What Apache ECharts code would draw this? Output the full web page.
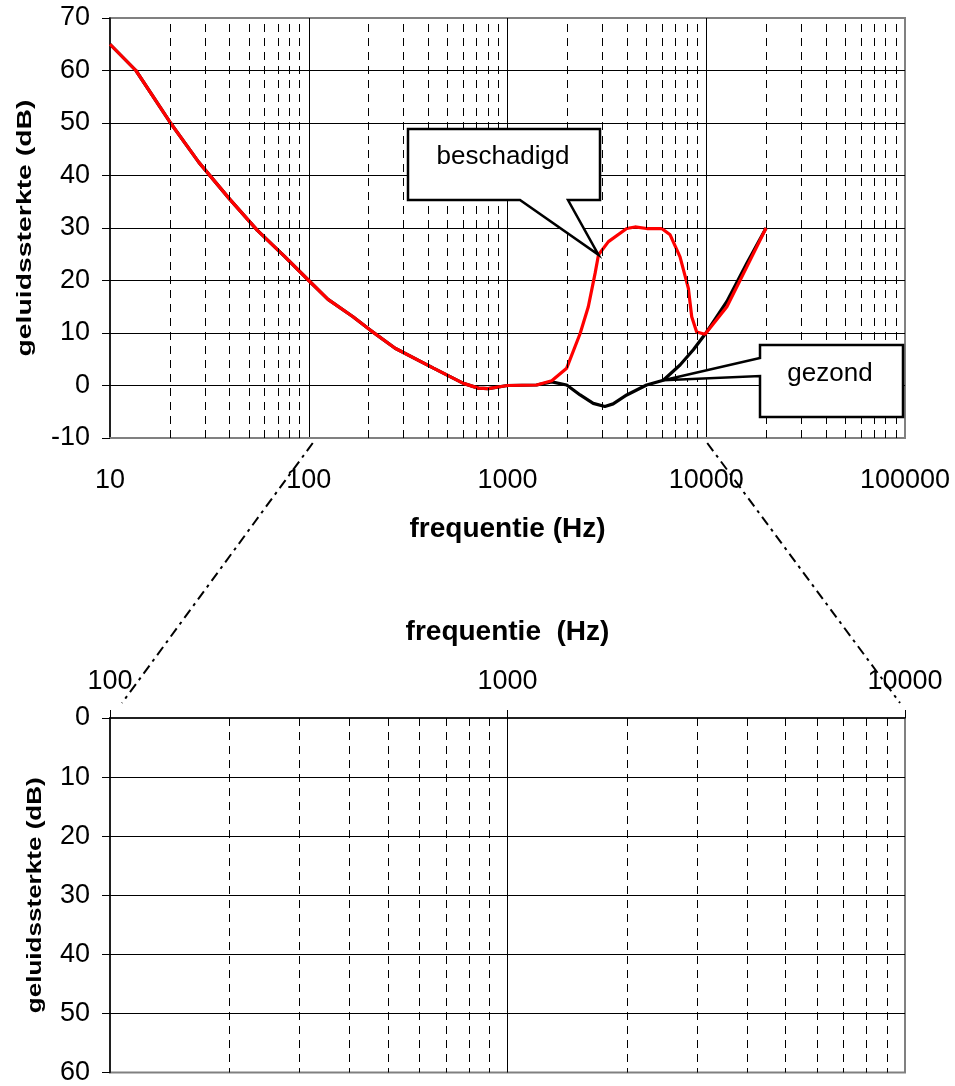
<!DOCTYPE html>
<html>
<head>
<meta charset="utf-8">
<script src="https://cdn.jsdelivr.net/npm/echarts@6/dist/echarts.min.js"></script>
<style>
html,body{margin:0;padding:0;background:#fff;}
#c{width:955px;height:1086px;}
</style>
</head>
<body>
<div id="c"></div>
<script>
// ---- data ----
var beschadigdFreq = [10, 13.5, 20, 28, 40, 55, 76, 100, 125, 167, 203, 272, 424, 600, 713, 800, 1000, 1400, 1670, 1985, 2320, 2550, 2760, 2870, 3220, 3980, 4380, 5010, 5970, 6580, 7380, 8130, 8450, 8950, 9860, 12700, 16000, 20000];
var beschadigdDb   = [65, 60, 50.2, 42.5, 35.5, 29.6, 24.5, 20, 16.4, 13.1, 10.6, 7.1, 3.3, 0.4, -0.5, -0.6, 0, 0.1, 0.9, 3.3, 9.9, 15, 21.4, 24.9, 27.4, 29.9, 30.2, 29.9, 29.9, 28.7, 24.5, 18.5, 13.1, 10.2, 9.75, 15, 22.6, 30];
var gezondFreq = [10, 13.5, 20, 28, 40, 55, 76, 100, 125, 167, 203, 272, 424, 600, 713, 800, 1000, 1400, 1670, 1985, 2320, 2700, 3090, 3400, 3980, 5010, 6080, 7380, 8610, 9860, 12700, 16000, 20000];
var gezondDb   = [65, 60, 50.2, 42.5, 35.5, 29.6, 24.5, 20, 16.4, 13.1, 10.6, 7.1, 3.3, 0.4, -0.5, -0.6, 0, 0.1, 0.7, 0.1, -1.8, -3.4, -4.0, -3.5, -1.8, 0.1, 1.0, 3.9, 6.8, 9.75, 16, 23.3, 30];

var topDecades = [10, 100, 1000, 10000];
var bottomDecades = [100, 1000];
var minorMultipliers = [2, 3, 4, 5, 6, 7, 8, 9];

var xTitle = 'frequentie (Hz)';
var xTitleBottom = 'frequentie  (Hz)';
var yTitle = 'geluidssterkte (dB)';
var labelDamaged = 'beschadigd';
var labelHealthy = 'gezond';
// anchor points (on the curves) of the callouts
var damagedAnchor = [2870, 24.9];
var healthyAnchor = [6080, 1.0];

function minorValues(decades){
  var out = [];
  decades.forEach(function(d){ minorMultipliers.forEach(function(m){ out.push(d*m); }); });
  return out;
}
var topMinor = minorValues(topDecades);
var bottomMinor = minorValues(bottomDecades);

var FONT = 'Liberation Sans, Arial, sans-serif';
var GRAY = '#808080';

function pairs(xs, ys){ return xs.map(function(x,i){ return [x, ys[i]]; }); }
function plain(v){ return String(Math.round(v)); }

var dashStyle = {type:[8,6], color:'#000', width:1};
var tickFont = 27;

var chart = echarts.init(document.getElementById('c'), null, {renderer:'canvas'});
var option = {
  animation: false,
  backgroundColor: '#fff',
  textStyle: {fontFamily: FONT},
  grid: [
    {left:110, top:18, width:795, height:420, show:true, borderColor:GRAY, borderWidth:2, backgroundColor:'transparent'},
    {left:110, top:718, width:795, height:357, show:true, borderColor:GRAY, borderWidth:2, backgroundColor:'transparent'}
  ],
  xAxis: [
    {
      gridIndex:0, type:'log', logBase:10, min:10, max:100000, position:'bottom',
      axisLine:{show:true, onZero:false, lineStyle:{color:GRAY, width:2}},
      axisTick:{show:false},
      axisLabel:{fontSize:tickFont, color:'#000', margin:29, fontFamily:FONT, formatter:plain},
      splitLine:{show:true, showMinLine:false, showMaxLine:false, lineStyle:{color:'#000', width:1}},
      name: xTitle, nameLocation:'middle', nameGap:77,
      nameTextStyle:{fontSize:28, fontWeight:'bold', color:'#000', fontFamily:FONT}
    },
    {
      gridIndex:1, type:'log', logBase:10, min:100, max:10000, position:'top',
      axisLine:{show:true, onZero:false, lineStyle:{color:'#000', width:1.5}},
      axisTick:{show:true, inside:false, length:8, lineStyle:{color:'#000', width:1}},
      axisLabel:{fontSize:tickFont, color:'#000', margin:23, fontFamily:FONT, formatter:plain},
      splitLine:{show:true, showMinLine:false, showMaxLine:false, lineStyle:{color:'#000', width:1}},
      name: xTitleBottom, nameLocation:'middle', nameGap:72,
      nameTextStyle:{fontSize:28, fontWeight:'bold', color:'#000', fontFamily:FONT}
    }
  ],
  yAxis: [
    {
      gridIndex:0, type:'value', min:-10, max:70, interval:10,
      axisLine:{show:true, onZero:false, lineStyle:{color:'#000', width:1.5}},
      axisTick:{show:true, length:8, lineStyle:{color:'#000'}},
      axisLabel:{fontSize:tickFont, color:'#000', margin:20, fontFamily:FONT},
      splitLine:{show:true, showMinLine:false, showMaxLine:false, lineStyle:{color:'#000', width:1}}
    },
    {
      gridIndex:1, type:'value', min:0, max:60, interval:10, inverse:true,
      axisLine:{show:true, onZero:false, lineStyle:{color:'#000', width:1.5}},
      axisTick:{show:true, length:8, lineStyle:{color:'#000'}},
      axisLabel:{fontSize:tickFont, color:'#000', margin:20, fontFamily:FONT},
      splitLine:{show:true, showMinLine:false, showMaxLine:false, lineStyle:{color:'#000', width:1}}
    }
  ],
  series: [
    {
      name:'minor-top', type:'line', xAxisIndex:0, yAxisIndex:0, data:[], silent:true, z:1,
      markLine:{
        silent:true, symbol:['none','none'], label:{show:false}, animation:false,
        lineStyle:dashStyle,
        emphasis:{disabled:true},
        data: topMinor.map(function(v){ return {xAxis:v}; }).concat(
          topMinor.map(function(v){ return [{coord:[v,-10], lineStyle:{type:'solid', color:'#000', width:1}}, {coord:[v,-9]}]; })
        )
      }
    },
    {
      name:'minor-bottom', type:'line', xAxisIndex:1, yAxisIndex:1, data:[], silent:true, z:1,
      markLine:{
        silent:true, symbol:['none','none'], label:{show:false}, animation:false,
        lineStyle:dashStyle,
        emphasis:{disabled:true},
        data: bottomMinor.map(function(v){ return {xAxis:v}; })
      }
    },
    {
      name:'gezond', type:'line', xAxisIndex:0, yAxisIndex:0, z:3,
      data: pairs(gezondFreq, gezondDb), showSymbol:false, symbol:'none',
      lineStyle:{color:'#000', width:3.2}, smooth:false
    },
    {
      name:'beschadigd', type:'line', xAxisIndex:0, yAxisIndex:0, z:4,
      data: pairs(beschadigdFreq, beschadigdDb), showSymbol:false, symbol:'none',
      lineStyle:{color:'#ff0000', width:3.2}, smooth:false
    }
  ]
};
chart.setOption(option);

// ---- annotations anchored through the axes ----
var tipD = chart.convertToPixel({gridIndex:0}, damagedAnchor);
var tipH = chart.convertToPixel({gridIndex:0}, healthyAnchor);
var t100 = chart.convertToPixel({gridIndex:0}, [100, -10]);
var t10k = chart.convertToPixel({gridIndex:0}, [10000, -10]);
var b100 = chart.convertToPixel({gridIndex:1}, [100, 0]);
var b10k = chart.convertToPixel({gridIndex:1}, [10000, 0]);
var topMid = chart.convertToPixel({gridIndex:0}, [10, 30]);
var botMid = chart.convertToPixel({gridIndex:1}, [100, 30]);

var dashDot = {stroke:'#000', lineWidth:2, lineDash:[10,5,3,5]};

// rotated axis titles
var ctx = document.createElement('canvas').getContext('2d');
var titleFont = 'bold 21px ' + FONT;
ctx.font = titleFont;
var titleW = ctx.measureText(yTitle).width;

function yTitleEl(cx, cy, len){
  return {type:'text', z:40, silent:true, x:cx, y:cy, rotation:Math.PI/2, scaleX:len/titleW, scaleY:1,
    style:{text:yTitle, fill:'#000', font:titleFont, textAlign:'center', textVerticalAlign:'middle'}};
}

chart.setOption({
  graphic: [
    yTitleEl(25, topMid[1], 257),
    yTitleEl(35, botMid[1], 236),
    {type:'line', z:50, shape:{x1:t100[0]+4, y1:t100[1]+5, x2:b100[0]+12, y2:b100[1]-15}, style:dashDot, silent:true},
    {type:'line', z:50, shape:{x1:t10k[0]+1, y1:t10k[1]+5, x2:b10k[0]-5, y2:b10k[1]-15}, style:dashDot, silent:true},
    {type:'polygon', z:60, silent:true,
      shape:{points:[[408,129],[600,129],[600,200],[568,200],[tipD[0],tipD[1]],[520,200],[408,200]]},
      style:{fill:'#fff', stroke:'#000', lineWidth:2.5, lineJoin:'miter'}},
    {type:'text', z:61, silent:true, x:503, y:157,
      style:{text:labelDamaged, fill:'#000', font:'26px ' + FONT, textAlign:'center', textVerticalAlign:'middle'}},
    {type:'polygon', z:60, silent:true,
      shape:{points:[[760,345],[903,345],[903,417],[760,417],[760,376],[tipH[0],tipH[1]],[760,358]]},
      style:{fill:'#fff', stroke:'#000', lineWidth:2.5, lineJoin:'miter'}},
    {type:'text', z:61, silent:true, x:830, y:374,
      style:{text:labelHealthy, fill:'#000', font:'26px ' + FONT, textAlign:'center', textVerticalAlign:'middle'}}
  ]
});
</script>
</body>
</html>
